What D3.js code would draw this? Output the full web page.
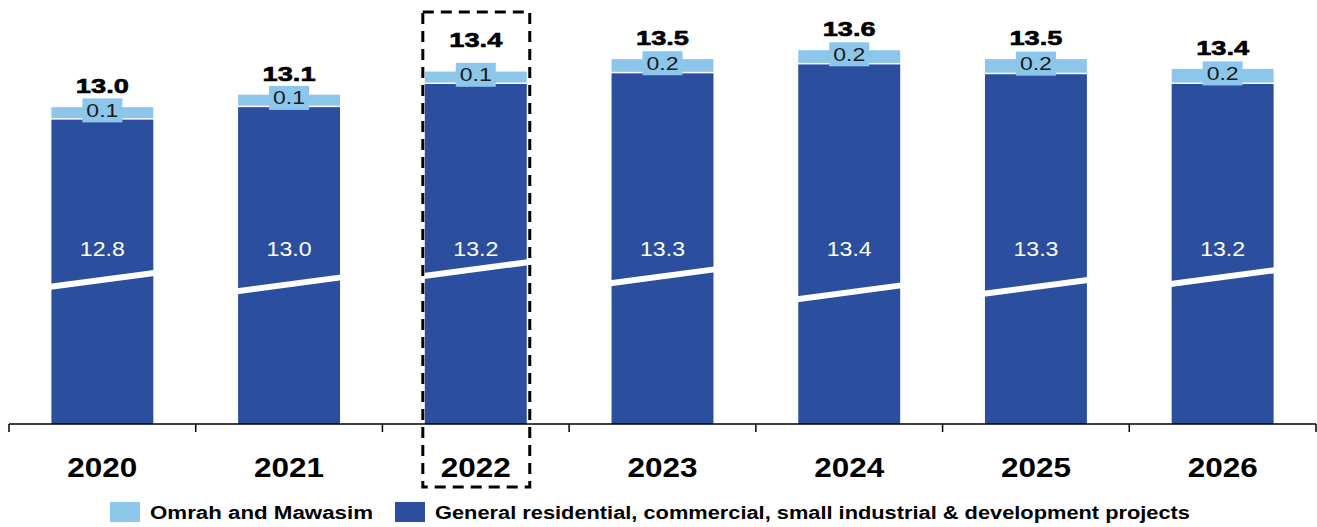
<!DOCTYPE html>
<html>
<head>
<meta charset="utf-8">
<script src="https://cdn.jsdelivr.net/npm/d3@7"></script>
<style>
  html, body { margin: 0; padding: 0; background: #fff; }
  svg { display: block; font-family: "Liberation Sans", Arial, sans-serif; }
</style>
</head>
<body>
<svg id="chart" width="1317" height="527"></svg>
<script>
// ---- data ----
const years = ["2020", "2021", "2022", "2023", "2024", "2025", "2026"];
const general = [12.82, 12.96, 13.22, 13.34, 13.44, 13.33, 13.22];
const omrah = [0.14, 0.14, 0.14, 0.16, 0.16, 0.17, 0.17];
// where the broken-axis marker crosses each bar (value units)
const axisBreak = [11.02, 10.97, 11.14, 11.06, 10.88, 10.94, 11.05];
const seriesNames = ["Omrah and Mawasim", "General residential, commercial, small industrial & development projects"];
const highlightYear = "2022";

// ---- styles ----
const darkBlue = "#2B4E9E";
const lightBlue = "#8CC7EB";
const fmt = d3.format(".1f");

const svg = d3.select("#chart");
const baseY = 424;

const x = d3.scaleBand().domain(years).range([9, 1316]).paddingInner(0.454).paddingOuter(0.227);
const y = d3.scaleLinear().domain([9.4, 14.0]).range([baseY, baseY - 89 * 4.6]);

const data = years.map((yr, i) => ({
  year: yr, general: general[i], omrah: omrah[i], total: general[i] + omrah[i], brk: axisBreak[i]
}));

// bars: general
svg.append("g").selectAll("rect").data(data).join("rect")
  .attr("x", d => x(d.year))
  .attr("width", x.bandwidth())
  .attr("y", d => y(d.general))
  .attr("height", d => y.range()[0] - y(d.general))
  .attr("fill", darkBlue);

// bars: omrah
svg.append("g").selectAll("rect").data(data).join("rect")
  .attr("x", d => x(d.year))
  .attr("width", x.bandwidth())
  .attr("y", d => y(d.total))
  .attr("height", d => y(d.general) - y(d.total) - 1.5)
  .attr("fill", lightBlue);

// axis-break markers
svg.append("g").selectAll("line").data(data).join("line")
  .attr("x1", d => x(d.year) - 1)
  .attr("x2", d => x(d.year) + x.bandwidth() + 1)
  .attr("y1", d => y(d.brk) + 6.9)
  .attr("y2", d => y(d.brk) - 6.9)
  .attr("stroke", "#fff")
  .attr("stroke-width", 6);

// general value labels (white)
svg.append("g").selectAll("text").data(data).join("text")
  .attr("x", d => x(d.year) + x.bandwidth() / 2)
  .attr("y", 256)
  .attr("text-anchor", "middle")
  .attr("fill", "#fff")
  .attr("font-size", 20)
  .attr("textLength", 45)
  .attr("lengthAdjust", "spacingAndGlyphs")
  .text(d => fmt(d.general));

// omrah value labels with box
const om = svg.append("g").selectAll("g").data(data).join("g")
  .attr("transform", d => `translate(${x(d.year) + x.bandwidth() / 2},${(y(d.total) + y(d.general)) / 2 - 3})`);
om.append("rect")
  .attr("x", -20).attr("y", -12).attr("width", 40).attr("height", 24)
  .attr("fill", lightBlue);
om.append("text")
  .attr("y", 6.5)
  .attr("text-anchor", "middle")
  .attr("fill", "#1a1a1a")
  .attr("font-size", 18)
  .attr("textLength", 32)
  .attr("lengthAdjust", "spacingAndGlyphs")
  .text(d => fmt(d.omrah));

// total labels
svg.append("g").selectAll("text").data(data).join("text")
  .attr("x", d => x(d.year) + x.bandwidth() / 2)
  .attr("y", d => y(d.total) - (d.year === highlightYear ? 25 : 14))
  .attr("text-anchor", "middle")
  .attr("fill", "#000")
  .attr("stroke", "#000")
  .attr("stroke-width", 0.6)
  .attr("font-size", 21)
  .attr("font-weight", "bold")
  .attr("textLength", 53)
  .attr("lengthAdjust", "spacingAndGlyphs")
  .text(d => fmt(d.total));

// x axis: line + boundary ticks
const step = x.step();
const r0 = x.range()[0];
const axis = svg.append("g");
axis.append("line")
  .attr("x1", r0).attr("x2", x.range()[1])
  .attr("y1", baseY).attr("y2", baseY)
  .attr("stroke", "#000").attr("stroke-width", 1.5);
axis.selectAll("line.tick").data(d3.range(years.length + 1)).join("line")
  .attr("class", "tick")
  .attr("x1", i => r0 + i * step).attr("x2", i => r0 + i * step)
  .attr("y1", baseY).attr("y2", baseY + 8)
  .attr("stroke", "#000").attr("stroke-width", 1.5);
axis.selectAll("text").data(years).join("text")
  .attr("x", d => x(d) + x.bandwidth() / 2)
  .attr("y", 477)
  .attr("text-anchor", "middle")
  .attr("font-size", 28)
  .attr("font-weight", "bold")
  .attr("fill", "#000")
  .attr("textLength", 70)
  .attr("lengthAdjust", "spacingAndGlyphs")
  .text(d => d);

// highlight dashed box
svg.append("rect")
  .attr("x", x(highlightYear) - 2)
  .attr("y", 12)
  .attr("width", x.bandwidth() + 5)
  .attr("height", 475)
  .attr("fill", "none")
  .attr("stroke", "#000")
  .attr("stroke-width", 3)
  .attr("stroke-dasharray", "11,7");

// legend
const legend = svg.append("g");
const legendItems = [
  { name: seriesNames[0], color: lightBlue, x: 110, len: 223 },
  { name: seriesNames[1], color: darkBlue, x: 395, len: 755 }
];
legendItems.forEach(it => {
  legend.append("rect").attr("x", it.x).attr("y", 502).attr("width", 30).attr("height", 20).attr("fill", it.color);
  legend.append("text")
    .attr("x", it.x + 40).attr("y", 518.5)
    .attr("font-size", 18).attr("font-weight", "bold").attr("fill", "#000")
    .attr("textLength", it.len).attr("lengthAdjust", "spacingAndGlyphs")
    .text(it.name);
});
</script>
</body>
</html>
